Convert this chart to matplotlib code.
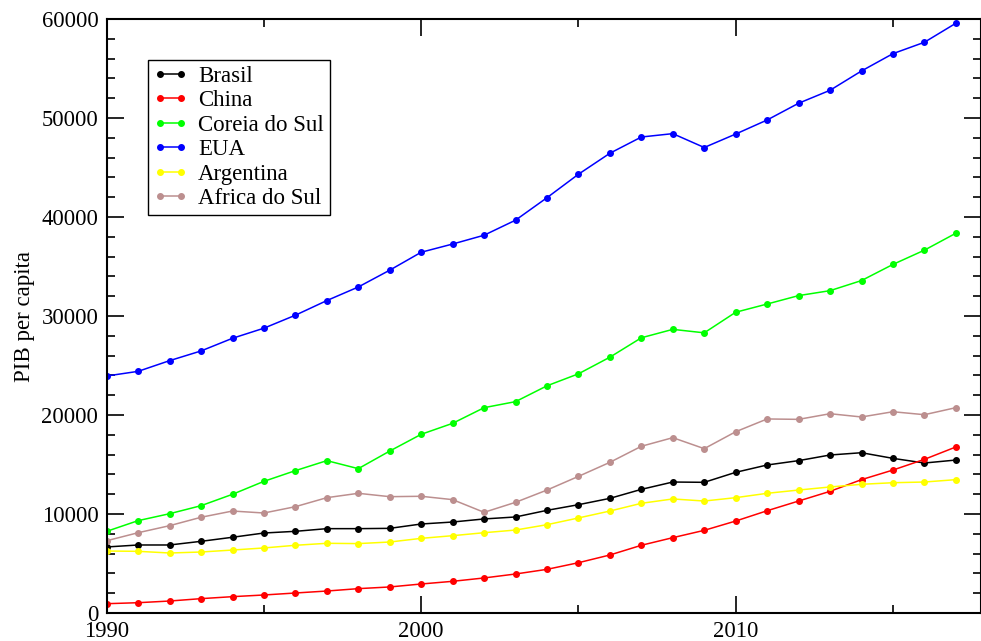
import numpy as np
import matplotlib
matplotlib.use("Agg")
import matplotlib.pyplot as plt
from matplotlib.ticker import MultipleLocator

plt.rcParams['font.family'] = ['Liberation Serif', 'DejaVu Serif']

anos = list(range(1990, 2018))

brasil = [6670, 6870, 6870, 7240, 7650, 8080, 8250, 8520, 8520, 8550,
          8990, 9190, 9500, 9700, 10370, 10940, 11580, 12490, 13230, 13200,
          14210, 14950, 15390, 15960, 16190, 15620, 15150, 15450]
china = [940, 1040, 1210, 1450, 1650, 1820, 2020, 2220, 2460, 2630,
         2930, 3200, 3540, 3940, 4410, 5080, 5860, 6840, 7610, 8350,
         9290, 10330, 11310, 12290, 13470, 14440, 15520, 16770]
coreia = [8250, 9330, 10030, 10840, 11990, 13300, 14380, 15390, 14580, 16360,
          18050, 19160, 20740, 21350, 22950, 24160, 25840, 27800, 28650, 28300,
          30380, 31210, 32060, 32560, 33580, 35210, 36650, 38360]
eua = [23940, 24410, 25490, 26470, 27750, 28770, 30080, 31560, 32930, 34630,
       36440, 37270, 38160, 39680, 41950, 44320, 46440, 48080, 48420, 47020,
       48380, 49800, 51490, 52800, 54750, 56500, 57650, 59570]
argentina = [6260, 6230, 6060, 6160, 6360, 6570, 6840, 7040, 7010, 7170,
             7540, 7810, 8110, 8380, 8920, 9600, 10300, 11080, 11520, 11310,
             11650, 12090, 12420, 12730, 13000, 13160, 13230, 13470]
africa_sul = [7300, 8110, 8820, 9670, 10300, 10100, 10740, 11650, 12090, 11750,
              11790, 11450, 10170, 11180, 12420, 13800, 15220, 16840, 17710, 16600,
              18310, 19600, 19560, 20130, 19800, 20330, 20030, 20740]

series = [
    ("Brasil", brasil, "#000000"),
    ("China", china, "#ff0000"),
    ("Coreia do Sul", coreia, "#00ff00"),
    ("EUA", eua, "#0000ff"),
    ("Argentina", argentina, "#ffff00"),
    ("Africa do Sul", africa_sul, "#bc8f8f"),
]

fig = plt.figure(figsize=(9.81, 6.41), dpi=100)
ax = fig.add_axes([106.7 / 981, 28 / 641, (980.5 - 106.7) / 981, 594 / 641])

for nome, valores, cor in series:
    ax.plot(anos, valores, color=cor, lw=1.1, marker='o', ms=4, label=nome)

ax.set_xlim(1990, 1990 + (980.5 - 106.7) / 31.45)
ax.set_ylim(0, 60000)
ax.xaxis.set_major_locator(MultipleLocator(10))
ax.xaxis.set_minor_locator(MultipleLocator(5))
ax.yaxis.set_major_locator(MultipleLocator(10000))
ax.yaxis.set_minor_locator(MultipleLocator(2000))

ax.tick_params(which='both', direction='in', top=True, right=True, labelsize=16.3, width=1.2)
ax.tick_params(which='major', length=12)
ax.tick_params(which='minor', length=6)
ax.tick_params(axis='x', pad=6)
ax.tick_params(axis='y', pad=6)
for s in ax.spines.values():
    s.set_linewidth(1.5)

ax.set_ylabel("PIB per capita", fontsize=16.5)
ax.yaxis.set_label_coords(-0.0825, 0.5)

leg = ax.legend(loc='upper left', bbox_to_anchor=(0.047, 0.931), borderaxespad=0,
                fontsize=16.5, fancybox=False, edgecolor='black', framealpha=1,
                handlelength=1.5, handletextpad=0.45, labelspacing=0.15,
                borderpad=0.25, numpoints=2)
leg.get_frame().set_linewidth(1.0)

fig.savefig("out.png", dpi=100)
